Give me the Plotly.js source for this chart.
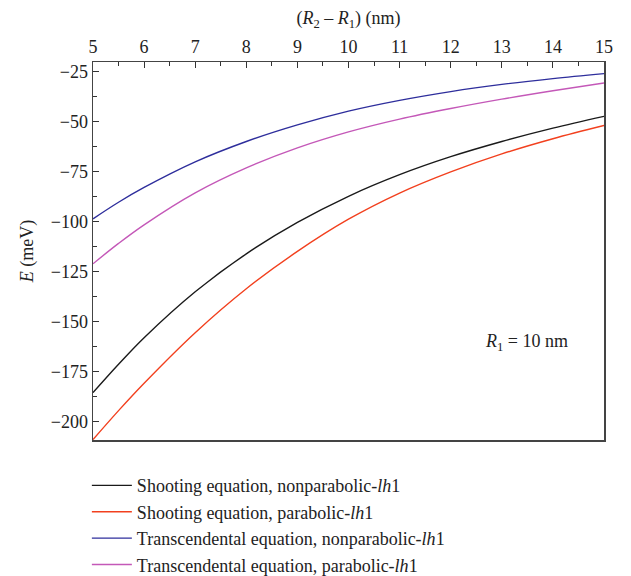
<!DOCTYPE html>
<html>
<head>
<meta charset="utf-8">
<script src="https://cdn.plot.ly/plotly-3.0.1.min.js"></script>
<style>html,body{margin:0;padding:0;background:#fff;}#chart{width:631px;height:576px;}</style>
</head>
<body>
<div id="chart"></div>
<script>
const thickness = [5, 5.5, 6, 7, 8, 9, 10, 11, 12, 13, 14, 15];
const shootingNonparabolic = [-185.5, -171.3, -158, -135, -116, -100.3, -87.2, -76.4, -67.4, -59.8, -53.1, -47.2];
const shootingParabolic = [-209, -194.5, -180.8, -155.5, -133.5, -114.8, -98.7, -85.6, -75, -66, -58.4, -51.8];
const transNonparabolic = [-98.5, -90.2, -82.8, -70, -59.8, -51.5, -44.6, -39.2, -34.8, -31.2, -28.3, -25.8];
const transParabolic = [-121, -110.8, -101.5, -85.5, -73, -63, -55, -48.6, -43.3, -38.6, -34.4, -30.5];
const seriesNames = [
  'Shooting equation, nonparabolic-<i>lh</i>1',
  'Shooting equation, parabolic-<i>lh</i>1',
  'Transcendental equation, nonparabolic-<i>lh</i>1',
  'Transcendental equation, parabolic-<i>lh</i>1'
];
const seriesColors = ['#1a1a1a', '#f2401e', '#2e2e9c', '#c458b8'];
const seriesData = [shootingNonparabolic, shootingParabolic, transNonparabolic, transParabolic];

const FONT = 'Liberation Serif, Times New Roman, serif';
const traces = seriesData.map((ys, i) => ({
  x: thickness, y: ys, type: 'scatter', mode: 'lines',
  name: seriesNames[i],
  line: {color: seriesColors[i], width: 1.4, shape: 'spline', smoothing: 1}
}));

const layout = {
  width: 631, height: 576,
  margin: {l: 93, r: 27, t: 62, b: 136},
  paper_bgcolor: '#fff', plot_bgcolor: '#fff',
  font: {family: FONT, size: 18, color: '#222'},
  showlegend: true,
  legend: {x: -0.012, xanchor: 'left', yref: 'container', y: 0.189, yanchor: 'top', orientation: 'v',
           itemwidth: 40,
           font: {family: FONT, size: 18, color: '#222'}, bgcolor: 'rgba(0,0,0,0)'},
  xaxis: {
    side: 'top', range: [5, 15], dtick: 1, tick0: 5, automargin: false,
    ticks: 'inside', ticklen: 6, tickcolor: '#333', tickwidth: 1,
    minor: {dtick: 0.5, ticks: 'inside', ticklen: 4, tickcolor: '#333'},
    showline: true, mirror: true, linecolor: '#444', linewidth: 1.5,
    showgrid: false, zeroline: false,
    tickfont: {family: FONT, size: 18, color: '#222'},
    title: {text: '(<i>R</i><sub>2</sub> – <i>R</i><sub>1</sub>) (nm)', font: {family: FONT, size: 18, color: '#222'}, standoff: 8}
  },
  yaxis: {
    range: [-209.2, -20], dtick: 25, tick0: -25, automargin: false,
    ticks: 'inside', ticklen: 6, tickcolor: '#333', tickwidth: 1,
    minor: {dtick: 12.5, ticks: 'inside', ticklen: 4, tickcolor: '#333'},
    showline: true, mirror: true, linecolor: '#444', linewidth: 1.5,
    showgrid: false, zeroline: false,
    tickfont: {family: FONT, size: 18, color: '#222'},
    title: {text: '<i>E</i> (meV)', font: {family: FONT, size: 18, color: '#222'}, standoff: 12}
  },
  annotations: [{
    x: 13.49, y: -160.2, xref: 'x', yref: 'y', showarrow: false,
    text: '<i>R</i><sub>1</sub> = 10 nm', font: {family: FONT, size: 18, color: '#222'}
  }]
};

Plotly.newPlot('chart', traces, layout, {displayModeBar: false, staticPlot: true});
</script>
</body>
</html>
